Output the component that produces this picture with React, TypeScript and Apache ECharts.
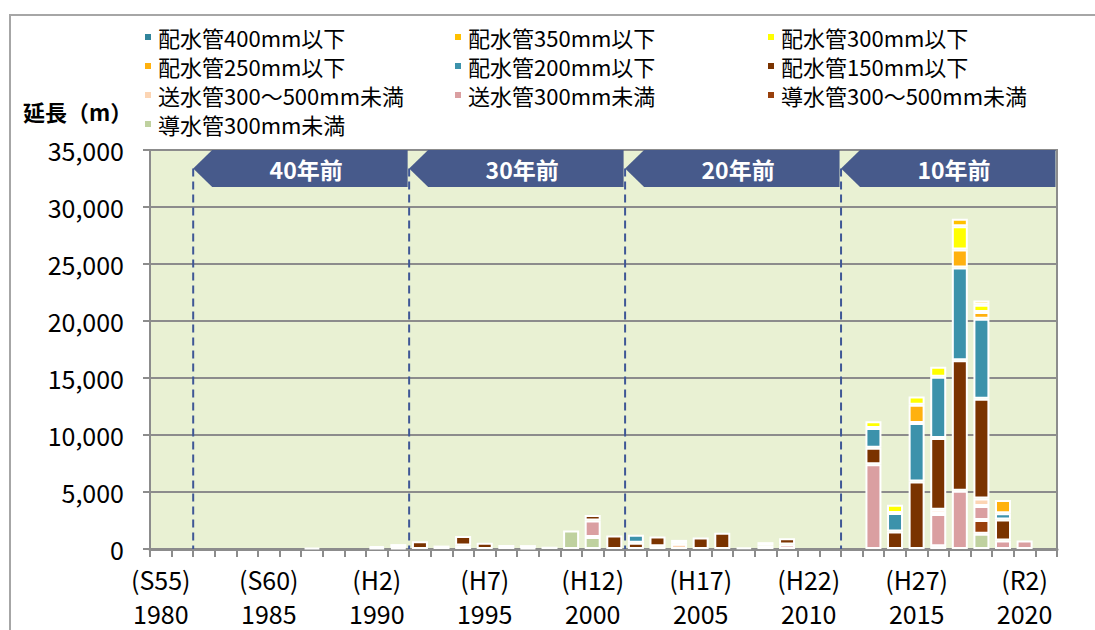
import React, { useEffect, useRef } from 'react';
import * as echarts from 'echarts';

// Fiscal years (categories)
const years = [
  '1980', '1981', '1982', '1983', '1984', '1985', '1986', '1987', '1988', '1989',
  '1990', '1991', '1992', '1993', '1994', '1995', '1996', '1997', '1998', '1999',
  '2000', '2001', '2002', '2003', '2004', '2005', '2006', '2007', '2008', '2009',
  '2010', '2011', '2012', '2013', '2014', '2015', '2016', '2017', '2018', '2019',
  '2020', '2021',
];

// Era tick labels shown under every fifth year
const labelYears = ['1980', '1985', '1990', '1995', '2000', '2005', '2010', '2015', '2020'];
const eraLabels = ['(S55)', '(S60)', '(H2)', '(H7)', '(H12)', '(H17)', '(H22)', '(H27)', '(R2)'];

// Series values (m)
const doSui300 = [
  0, 0, 0, 0, 0, 0, 0, 0, 0, 0,
  0, 0, 0, 0, 0, 0, 0, 0, 0, 1620,
  1050, 0, 0, 0, 0, 0, 0, 0, 0, 0,
  0, 0, 0, 0, 0, 0, 250, 0, 1330, 0,
  0, 0,
];
const doSui500 = [
  0, 0, 0, 0, 0, 0, 0, 0, 0, 0,
  0, 0, 0, 0, 0, 0, 0, 0, 0, 0,
  0, 0, 0, 0, 0, 0, 0, 0, 0, 0,
  0, 0, 0, 0, 0, 0, 0, 0, 1220, 0,
  0, 0,
];
const souSui300 = [
  0, 0, 0, 0, 0, 0, 0, 0, 0, 0,
  100, 100, 0, 0, 300, 0, 0, 80, 0, 0,
  1450, 0, 0, 250, 0, 0, 0, 0, 0, 400,
  0, 0, 0, 7430, 0, 0, 2820, 5100, 1220, 750,
  750, 0,
];
const souSui500 = [
  0, 0, 0, 0, 0, 0, 0, 100, 0, 0,
  0, 0, 0, 0, 0, 0, 350, 0, 200, 0,
  0, 0, 0, 0, 450, 0, 0, 120, 300, 0,
  0, 0, 0, 0, 0, 0, 370, 0, 670, 0,
  0, 0,
];
const hai150 = [
  0, 0, 0, 0, 0, 0, 0, 0, 0, 0,
  150, 330, 680, 300, 830, 550, 0, 260, 0, 0,
  480, 1190, 550, 850, 350, 1000, 1420, 0, 0, 550,
  0, 0, 0, 1450, 1540, 5920, 6300, 11460, 8740, 1830,
  0, 0,
];
const hai200 = [
  0, 0, 0, 0, 0, 0, 0, 0, 0, 0,
  0, 0, 0, 0, 0, 0, 0, 0, 0, 0,
  0, 0, 700, 0, 0, 0, 0, 0, 0, 0,
  0, 0, 0, 1740, 1620, 5140, 5370, 8130, 7020, 550,
  0, 0,
];
const hai250 = [
  0, 0, 0, 0, 0, 0, 0, 0, 0, 0,
  0, 0, 0, 0, 0, 0, 0, 0, 0, 0,
  0, 0, 0, 0, 0, 0, 0, 0, 300, 0,
  0, 0, 0, 0, 0, 1590, 0, 1590, 580, 1160,
  0, 0,
];
const hai300 = [
  0, 0, 0, 0, 0, 0, 0, 0, 0, 0,
  0, 0, 0, 0, 0, 0, 0, 0, 0, 0,
  0, 0, 0, 0, 0, 0, 0, 0, 0, 0,
  0, 0, 0, 580, 730, 730, 870, 2040, 640, 0,
  0, 0,
];
const hai350 = [
  0, 0, 0, 0, 0, 0, 0, 0, 0, 0,
  0, 0, 0, 0, 0, 0, 0, 0, 0, 0,
  0, 0, 0, 0, 0, 0, 0, 0, 0, 0,
  0, 0, 0, 0, 0, 0, 0, 660, 380, 0,
  0, 0,
];
const hai400 = [
  0, 0, 0, 0, 0, 0, 0, 0, 0, 0,
  0, 0, 0, 0, 0, 0, 0, 0, 0, 0,
  0, 0, 0, 0, 0, 0, 0, 0, 0, 0,
  0, 0, 0, 0, 0, 0, 0, 0, 0, 0,
  0, 0,
];

// Period bands (category boundary index start/end)
const bandStarts = [2, 12, 22, 32];
const bandEnds = [12, 22, 32, 42];
const bandLabels = ['40年前', '30年前', '20年前', '10年前'];

const FONT = '"Noto Sans CJK JP", "Noto Sans", sans-serif';

// stacking order bottom -> top
const seriesDefs = [
  { name: '導水管300mm未満', data: doSui300, color: '#BFD19F' },
  { name: '導水管300～500mm未満', data: doSui500, color: '#98400C' },
  { name: '送水管300mm未満', data: souSui300, color: '#DA9FA1' },
  { name: '送水管300～500mm未満', data: souSui500, color: '#FCD5B4' },
  { name: '配水管150mm以下', data: hai150, color: '#7A3300' },
  { name: '配水管200mm以下', data: hai200, color: '#3C92AB' },
  { name: '配水管250mm以下', data: hai250, color: '#FFB10F' },
  { name: '配水管300mm以下', data: hai300, color: '#FFFF00' },
  { name: '配水管350mm以下', data: hai350, color: '#FFC000' },
  { name: '配水管400mm以下', data: hai400, color: '#31849B' },
];

// legend grid: rows of names
const legendRows = [
  ['配水管400mm以下', '配水管350mm以下', '配水管300mm以下'],
  ['配水管250mm以下', '配水管200mm以下', '配水管150mm以下'],
  ['送水管300～500mm未満', '送水管300mm未満', '導水管300～500mm未満'],
  ['導水管300mm未満'],
];
const legendCols = [143, 453, 766];
const legendRowY = [38, 67, 96, 125];

export default function App() {
  const ref = useRef<HTMLDivElement>(null);

  useEffect(() => {
    document.body.style.margin = '0';
    if (!ref.current) return;
    const chart = echarts.init(ref.current, null, { renderer: 'svg' });

    const legends: any[] = [];
    legendRows.forEach((row, r) => {
      row.forEach((name, c) => {
        legends.push({
          data: [name],
          left: legendCols[c],
          top: legendRowY[r] - 12,
          padding: 0,
          icon: 'rect',
          itemWidth: 8,
          itemHeight: 8,
          selectedMode: false,
          textStyle: { fontSize: 22, color: '#000', fontFamily: FONT, padding: [0, 0, 0, 1] },
        });
      });
    });

    const bars = seriesDefs.map((s) => ({
      name: s.name,
      type: 'bar',
      stack: 'total',
      xAxisIndex: 0,
      yAxisIndex: 0,
      barWidth: 16,
      data: s.data.map((v) => (v === 0 ? '-' : v)),
      itemStyle: {
        color: s.color,
        borderColor: '#FFFFFF',
        borderWidth: 2,
      },
      z: 3,
    }));

    const bands = {
      type: 'custom',
      xAxisIndex: 1,
      yAxisIndex: 0,
      silent: true,
      clip: false,
      z: 6,
      data: bandStarts.map((s, i) => [s, bandEnds[i]]),
      renderItem: (params: any, api: any) => {
        const i = params.dataIndex;
        const x0 = api.value(0);
        const x1 = api.value(1);
        const p0 = api.coord([x0, 35000]);
        const p1 = api.coord([x1, 35000]);
        const pb = api.coord([x0, 0]);
        const top = p0[1];
        const h = 37;
        const tipY = top + h / 2;
        return {
          type: 'group',
          children: [
            {
              type: 'line',
              shape: { x1: p0[0], y1: tipY, x2: p0[0], y2: pb[1] },
              style: { stroke: '#3F5796', lineWidth: 2, lineDash: [8, 5] },
            },
            {
              type: 'polygon',
              shape: {
                points: [
                  [p0[0], tipY],
                  [p0[0] + 19, top],
                  [p1[0] - 1.5, top],
                  [p1[0] - 1.5, top + h],
                  [p0[0] + 19, top + h],
                ],
              },
              style: { fill: '#475A8B' },
            },
            {
              type: 'text',
              x: (p0[0] + p1[0]) / 2 + 5,
              y: tipY,
              style: {
                text: bandLabels[i],
                fill: '#FFFFFF',
                fontSize: 23,
                fontWeight: 'bold',
                fontFamily: FONT,
                align: 'center',
                verticalAlign: 'middle',
              },
            },
          ],
        };
      },
    };

    chart.setOption({
      animation: false,
      backgroundColor: '#FFFFFF',
      textStyle: { fontFamily: FONT },
      title: {
        text: '延長（m）',
        left: 23,
        top: 100,
        padding: 0,
        textStyle: { fontSize: 22, fontWeight: 'bold', color: '#000', fontFamily: FONT },
      },
      legend: legends,
      graphic: [
        {
          type: 'rect',
          silent: true,
          z: -10,
          shape: { x: 10, y: 15, width: 1095, height: 640 },
          style: { fill: 'none', stroke: '#A6A6A6', lineWidth: 2 },
        },
      ],
      grid: {
        left: 150,
        right: 38,
        top: 150,
        bottom: 78,
        show: true,
        backgroundColor: '#E9F1D3',
        borderColor: '#8C8C8C',
        borderWidth: 2,
      },
      xAxis: [
        {
          type: 'category',
          data: years,
          boundaryGap: true,
          axisLine: { show: true, lineStyle: { color: '#8C8C8C', width: 3 } },
          axisTick: { show: true, interval: 0, length: 8, lineStyle: { color: '#8C8C8C', width: 2 } },
          axisLabel: {
            interval: (index: number) => labelYears.indexOf(years[index]) >= 0,
            formatter: (value: string) => {
              const k = labelYears.indexOf(value);
              return k >= 0 ? `${eraLabels[k]}\n${value}` : '';
            },
            fontSize: 25,
            lineHeight: 34,
            margin: 13,
            color: '#000',
            fontFamily: FONT,
          },
          splitLine: { show: false },
        },
        {
          type: 'value',
          min: 0,
          max: 42,
          show: false,
        },
      ],
      yAxis: {
        type: 'value',
        min: 0,
        max: 35000,
        interval: 5000,
        axisLine: { show: true, lineStyle: { color: '#8C8C8C', width: 2 } },
        axisTick: { show: true, length: 7, lineStyle: { color: '#8C8C8C', width: 2 } },
        axisLabel: {
          formatter: (v: number) => v.toLocaleString('en-US'),
          fontSize: 25,
          margin: 26,
          color: '#000',
          fontFamily: FONT,
        },
        splitLine: { show: true, lineStyle: { color: '#8C8C8C', width: 2 } },
      },
      series: [...bars, bands],
    });

    return () => {
      chart.dispose();
    };
  }, []);

  return <div ref={ref} style={{ width: 1095, height: 630 }} />;
}
